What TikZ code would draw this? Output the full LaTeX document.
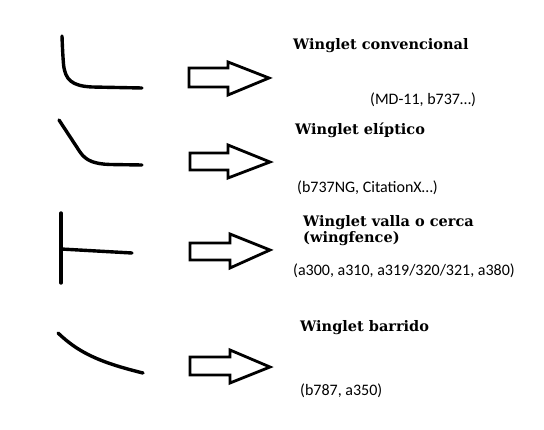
\documentclass[tikz,border=0pt]{standalone}
\usepackage{fontspec}
\newfontfamily\titlefont{DejaVu Serif}[BoldFont={DejaVu Serif Bold}]
\newfontfamily\subfont{Carlito}
\begin{document}
\begin{tikzpicture}[x=1pt,y=-1pt,
  wing/.style={line width=3.4pt,line cap=round,line join=round},
  blockarrow/.style={line width=2.8pt,line join=miter,fill=white},
  title/.style={anchor=base west,inner sep=0pt,font=\titlefont\bfseries\fontsize{14.5}{16}\selectfont,align=left},
  sub/.style={anchor=west,inner sep=0pt,font=\subfont\fontsize{16}{18}\selectfont}]
\useasboundingbox (0,0) rectangle (544,430);
% shape 1 - conventional
\draw[wing] (62,36) .. controls (62.5,50) and (63,58) .. (63.5,64) .. controls (65,80) and (72,86) .. (92,87) -- (142,88);
% shape 2 - elliptic
\draw[wing] (59,120) -- (80,152) .. controls (86,161) and (95,164) .. (110,164.5) -- (142,165);
% shape 3 - wingfence
\draw[wing] (61,213) -- (61,283);
\draw[wing] (61,249) -- (132,253);
% shape 4 - sweep
\draw[wing] (58,333) .. controls (78,352) and (98,362) .. (143,373);
% arrows
\draw[blockarrow] (189,68) -- (228,68) -- (228,62) -- (269,78) -- (228,95) -- (228,87) -- (189,87) -- cycle;
\draw[blockarrow] (190,153) -- (228,153) -- (228,145) -- (270,162) -- (228,178) -- (228,170) -- (190,170) -- cycle;
\draw[blockarrow] (190,243) -- (230,243) -- (230,234) -- (270,250) -- (230,268) -- (230,260) -- (190,260) -- cycle;
\draw[blockarrow] (190,357) -- (230,357) -- (230,350) -- (270,367) -- (230,383) -- (230,375) -- (190,375) -- cycle;
% texts
\node[title] (t1) at (293,50) {Winglet convencional};
\node[sub] (s1) at (370,100) {(MD-11, b737…)};
\node[title] (t2) at (295,135) {Winglet elíptico};
\node[sub] (s2) at (297,188) {(b737NG, CitationX…)};
\node[title] (t3a) at (303,227) {Winglet valla o cerca};
\node[title] (t3b) at (303,243) {(wingfence)};
\node[sub] (s3) at (293,271) {(a300, a310, a319/320/321, a380)};
\node[title] (t4) at (300,332) {Winglet barrido};
\node[sub] (s4) at (300,391) {(b787, a350)};
\end{tikzpicture}
\end{document}
